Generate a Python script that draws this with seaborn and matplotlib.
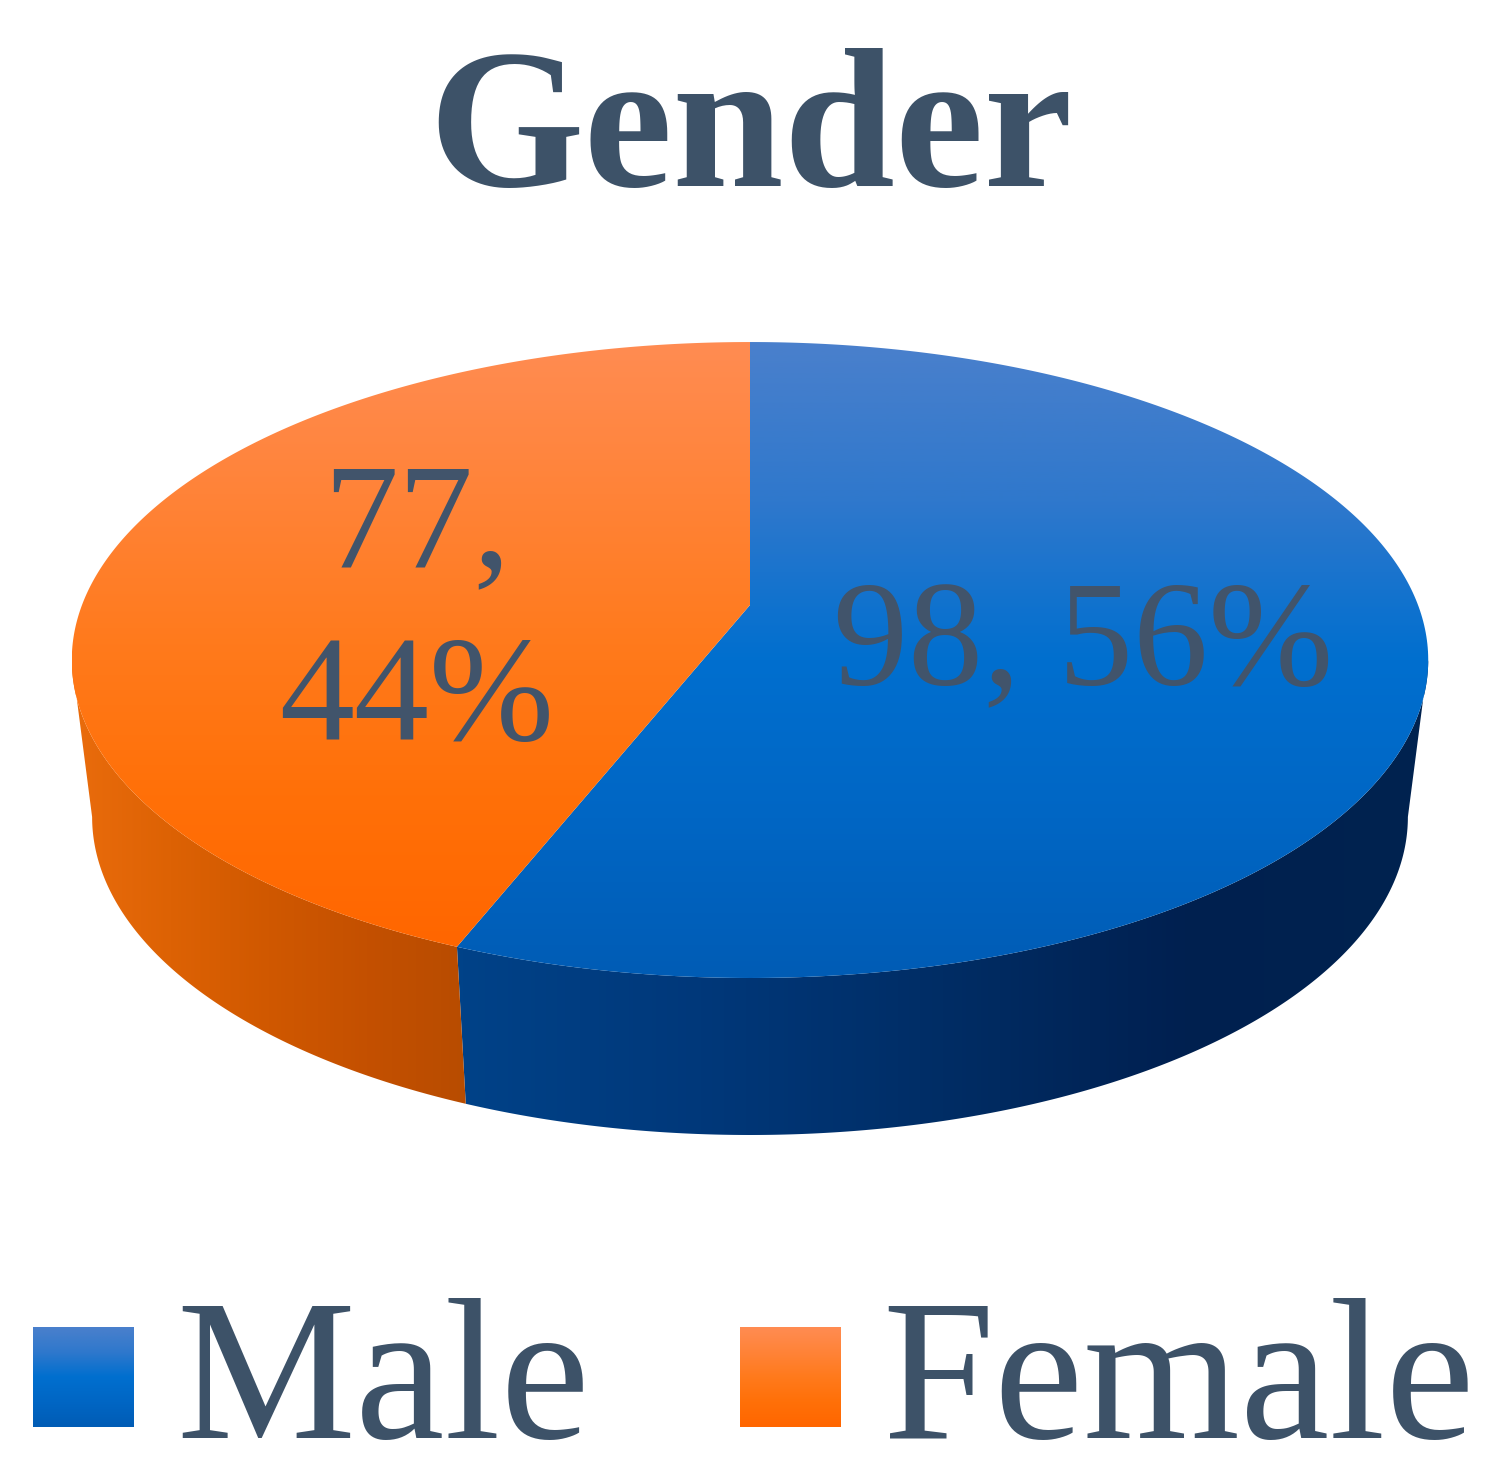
import numpy as np
import matplotlib
matplotlib.use('Agg')
import matplotlib.pyplot as plt
from matplotlib.patches import Polygon
import seaborn as sns

genders = ['Male', 'Female']
counts = [98, 77]
slice_labels = ['98, 56%', '77,\n44%']

TEXT_COLOR = '#3d5268'
LABEL_COLOR = '#41546b'

top_colors = {
    'Male': ['#4a80cc', '#2f78cc', '#006fcf', '#0066c4', '#005cb5'],
    'Female': ['#ff8c52', '#ff8338', '#ff7a1c', '#ff7008', '#ff6600'],
}
side_colors = {
    'Male': ['#004288', '#00387a', '#002d65', '#002050', '#00234f'],
    'Female': ['#ea6c0c', '#dd6204', '#d05800', '#c45000', '#b84c00'],
}

sns.set_theme(style='white')
plt.rcParams['font.family'] = ['Liberation Serif', 'DejaVu Serif']


def project(angle, depth=0.0):
    # pie plane seen in perspective, angle runs clockwise from 12 o'clock
    u, v = np.sin(angle), np.cos(angle)
    w = 1 + 0.173 * v
    x = 668 * u / w
    y = (605 - 203.8 * v) / w
    scale = 1 - 0.03 * depth
    return 750 + x * scale, y + 157 * depth


def gradient_fill(ax, path_xy, colors, vertical=True):
    cmap = sns.blend_palette(colors, n_colors=256, as_cmap=True)
    xs, ys = path_xy[:, 0], path_xy[:, 1]
    ramp = np.linspace(0, 1, 256)
    ramp = ramp[:, None] if vertical else ramp[None, :]
    im = ax.imshow(ramp, cmap=cmap, aspect='auto', interpolation='bilinear',
                   extent=(xs.min(), xs.max(), ys.max(), ys.min()), zorder=2)
    patch = Polygon(path_xy, closed=True, transform=ax.transData, fc='none', ec='none')
    ax.add_patch(patch)
    im.set_clip_path(patch)


fig = plt.figure(figsize=(15.04, 14.76), dpi=100)
ax = fig.add_axes([0, 0, 1, 1])

fractions = np.array(counts) / sum(counts)
edges = np.concatenate([[0], np.cumsum(fractions)]) * 2 * np.pi

# only the front of the rim shows, between the two silhouette angles
front_start = np.arccos(-0.173)
front_end = 2 * np.pi - front_start

for name, a0, a1 in zip(genders, edges[:-1], edges[1:]):
    t = np.linspace(max(a0, front_start), min(a1, front_end), 300)
    xt, yt = project(t)
    xb, yb = project(t, 1.0)
    rim = np.column_stack([np.r_[xt, xb[::-1]], np.r_[yt, yb[::-1]]])
    gradient_fill(ax, rim, side_colors[name], vertical=False)

for name, a0, a1 in zip(genders, edges[:-1], edges[1:]):
    t = np.linspace(a0, a1, 300)
    xt, yt = project(t)
    face = np.column_stack([np.r_[750.0, xt], np.r_[605.0, yt]])
    gradient_fill(ax, face, top_colors[name])

ax.text(750, 186, 'Gender', ha='center', va='baseline', fontsize=144,
        fontweight='bold', color=TEXT_COLOR, zorder=5)

ax.text(1083, 685, slice_labels[0], ha='center', va='baseline', fontsize=108,
        color=LABEL_COLOR, zorder=5)
ax.text(417, 740, slice_labels[1], ha='center', va='baseline', fontsize=108,
        color=LABEL_COLOR, linespacing=1.355, zorder=5)

# legend built by hand so the swatches can keep the gradient
swatch_x = [33, 740]
text_x = [176, 882]
for name, sx, tx in zip(genders, swatch_x, text_x):
    square = np.array([[sx, 1327], [sx + 101, 1327], [sx + 101, 1427], [sx, 1427]], dtype=float)
    gradient_fill(ax, square, top_colors[name])
    ax.text(tx, 1438, name, ha='left', va='baseline', fontsize=145,
            color=TEXT_COLOR, zorder=5)

ax.set_xlim(0, 1504)
ax.set_ylim(1476, 0)
ax.axis('off')
fig.savefig('out.png', dpi=100, facecolor='white')
